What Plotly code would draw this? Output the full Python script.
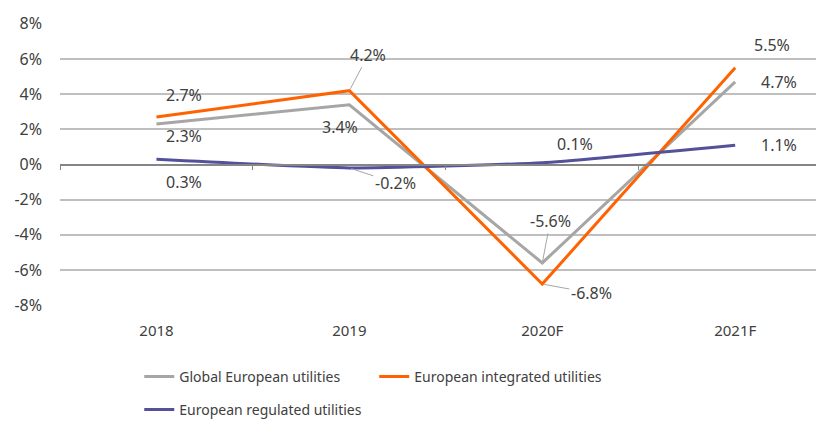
import plotly.graph_objects as go

categories = ["2018", "2019", "2020F", "2021F"]
global_eu = [2.3, 3.4, -5.6, 4.7]
integrated = [2.7, 4.2, -6.8, 5.5]
regulated = [0.3, -0.2, 0.1, 1.1]
y_ticks = [-8, -6, -4, -2, 0, 2, 4, 6, 8]

GRAY = "#A6A6A6"
ORANGE = "#FF6200"
PURPLE = "#525199"
TXT = "#404040"
FONT = "Noto Sans"

fig = go.Figure()
fig.add_trace(go.Scatter(x=categories, y=global_eu, mode="lines", name="Global European utilities",
                         line=dict(color=GRAY, width=3), legend="legend"))
fig.add_trace(go.Scatter(x=categories, y=integrated, mode="lines", name="European integrated utilities",
                         line=dict(color=ORANGE, width=3), legend="legend"))
fig.add_trace(go.Scatter(x=categories, y=regulated, mode="lines", name="European regulated utilities",
                         line=dict(color=PURPLE, width=3, shape="spline", smoothing=0.4),
                         legend="legend2"))

def lab(i, v, dx, dy, arrow=False):
    d = dict(x=i, y=v, xref="x", yref="y", text=f"{v:.1f}%",
             font=dict(family=FONT, size=16, color=TXT))
    if arrow:
        d.update(showarrow=True, ax=dx, ay=-dy, arrowhead=0, arrowwidth=1,
                 arrowcolor="#A6A6A6", standoff=2)
    else:
        d.update(showarrow=False, xshift=dx, yshift=dy)
    fig.add_annotation(**d)

# 2018
lab(0, integrated[0], 28, 22)
lab(0, global_eu[0], 28, -12)
lab(0, regulated[0], 28, -23)
# 2019
lab(1, integrated[1], 19, 36, arrow=True)
lab(1, global_eu[1], -9, -22)
lab(1, regulated[1], 46, -15, arrow=True)
# 2020F
lab(2, regulated[2], 33, 19)
lab(2, global_eu[2], 8, 42, arrow=True)
lab(2, integrated[2], 49, -9, arrow=True)
# 2021F
lab(3, integrated[3], 37, 23)
lab(3, global_eu[3], 44, 0)
lab(3, regulated[3], 44, 0)

legend_common = dict(orientation="h", xanchor="left", yanchor="middle", yref="container",
                     entrywidth=190, entrywidthmode="pixels",
                     font=dict(family=FONT, size=14, color=TXT), bgcolor="rgba(0,0,0,0)")

# page body has an 8px default margin; figure sized to fit the 824x421 window
fig.update_layout(
    width=816, height=413,
    margin=dict(l=52, r=2, t=15, b=115),
    paper_bgcolor="white", plot_bgcolor="white",
    font=dict(family=FONT, size=14, color=TXT),
    showlegend=True,
    legend=dict(x=0.104, y=0.1065, **legend_common),
    legend2=dict(x=0.104, y=0.0266, **legend_common),
    xaxis=dict(range=[-0.5, 3.45], showgrid=False, zeroline=False, showline=False,
               ticks="", ticklabelstandoff=14,
               tickfont=dict(family=FONT, size=15, color=TXT)),
    xaxis2=dict(overlaying="x", matches="x", anchor="free", position=0.5,
                showline=True, linecolor="#868686", linewidth=1.5,
                ticks="outside", tickson="boundaries", ticklen=5, tickcolor="#868686",
                showticklabels=False, showgrid=False, zeroline=False,
                type="category", categoryarray=categories),
    yaxis=dict(range=[-8.05, 8.05], tickvals=y_ticks, ticktext=[f"{t}%" for t in y_ticks],
               showgrid=True, gridcolor="#BFBFBF", gridwidth=1.5, zeroline=False,
               showline=False, ticks="", ticklabelstandoff=17,
               tickfont=dict(family=FONT, size=16, color=TXT)),
)
# invisible trace to activate the zero-line axis with boundary ticks
fig.add_trace(go.Scatter(x=categories, y=[0, 0, 0, 0], xaxis="x2", mode="lines",
                         line=dict(width=0), hoverinfo="skip", showlegend=False))

fig.write_html("out.html")
